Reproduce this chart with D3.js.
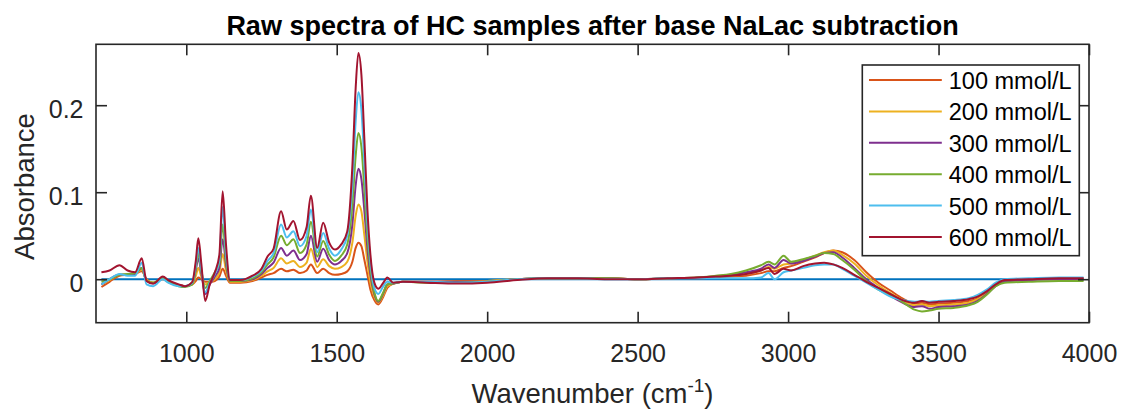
<!DOCTYPE html>
<html>
<head>
<meta charset="utf-8">
<script src="https://cdn.jsdelivr.net/npm/d3@7"></script>
<style>
    body { margin: 0; background: #fff; }
    svg text { font-family: "Liberation Sans", Arial, Helvetica, sans-serif; }
</style>
</head>
<body>
<div id="chart"></div>
<script>
// wavenumber grid (cm-1) shared by all spectra
const wavenumbers = [718, 745, 778, 805, 830, 852, 868, 890, 922, 940, 975, 995, 1020, 1032, 1040, 1050, 1063, 1078, 1095, 1110,
    1121, 1132, 1145, 1180, 1220, 1250, 1270, 1290, 1315, 1334, 1356, 1378, 1400, 1414, 1435, 1455, 1475, 1494, 1515, 1535,
    1552, 1563, 1572, 1582, 1592, 1602, 1612, 1625, 1638, 1655, 1668, 1688, 1720, 1800, 1900, 2000, 2100, 2200, 2300, 2400,
    2500, 2600, 2700, 2760, 2810, 2860, 2910, 2935, 2955, 2985, 3010, 3050, 3090, 3120, 3150, 3180, 3220, 3260, 3300, 3340,
    3380, 3420, 3445, 3470, 3500, 3550, 3600, 3630, 3660, 3690, 3720, 3800, 3900, 3982]

const abs_100 = [-0.009, -0.003, 0.004, 0.005, 0.006, 0.009, 0.000, -0.004, 0.000, -0.003, -0.007, -0.008, -0.006, -0.002, 0.002, 0.000, -0.003, -0.003, -0.002, 0.003,
    0.012, 0.004, -0.004, -0.004, -0.002, 0.002, 0.005, 0.007, 0.012, 0.009, 0.011, 0.007, 0.010, 0.017, 0.007, 0.012, 0.007, 0.005, 0.006, 0.009,
    0.020, 0.036, 0.042, 0.038, 0.022, 0.005, -0.012, -0.024, -0.029, -0.020, -0.010, -0.005, -0.003, -0.003, -0.002, -0.002, 0.000, 0.001, 0.001, 0.001,
    0.000, 0.001, 0.001, 0.002, 0.003, 0.004, 0.007, 0.009, 0.009, 0.013, 0.015, 0.020, 0.025, 0.030, 0.033, 0.031, 0.022, 0.008, -0.004, -0.013,
    -0.022, -0.028, -0.027, -0.029, -0.028, -0.027, -0.025, -0.022, -0.015, -0.007, -0.002, 0.000, 0.001, 0.001]

const abs_200 = [-0.006, -0.001, 0.005, 0.005, 0.006, 0.011, -0.001, -0.004, 0.001, -0.003, -0.007, -0.008, -0.006, 0.004, 0.013, 0.003, -0.006, -0.003, 0.000, 0.008,
    0.029, 0.010, -0.003, -0.003, -0.001, 0.004, 0.009, 0.013, 0.024, 0.018, 0.021, 0.014, 0.019, 0.035, 0.014, 0.023, 0.015, 0.012, 0.014, 0.020,
    0.042, 0.073, 0.086, 0.078, 0.050, 0.020, -0.004, -0.020, -0.027, -0.018, -0.008, -0.005, -0.003, -0.003, -0.003, -0.002, 0.000, 0.001, 0.001, 0.001,
    0.000, 0.001, 0.002, 0.003, 0.004, 0.006, 0.010, 0.014, 0.012, 0.017, 0.018, 0.022, 0.027, 0.031, 0.033, 0.028, 0.018, 0.004, -0.007, -0.016,
    -0.024, -0.030, -0.029, -0.031, -0.030, -0.029, -0.027, -0.023, -0.016, -0.007, -0.002, 0.000, 0.000, 0.000]

const abs_300 = [-0.006, 0.000, 0.005, 0.005, 0.006, 0.013, -0.002, -0.005, 0.001, -0.003, -0.007, -0.008, -0.005, 0.011, 0.024, 0.007, -0.017, -0.006, 0.003, 0.013,
    0.046, 0.017, -0.002, -0.002, 0.000, 0.006, 0.013, 0.019, 0.036, 0.027, 0.033, 0.022, 0.029, 0.050, 0.020, 0.035, 0.022, 0.017, 0.021, 0.030,
    0.063, 0.108, 0.127, 0.115, 0.078, 0.035, 0.005, -0.017, -0.026, -0.016, -0.006, -0.005, -0.003, -0.003, -0.003, -0.003, 0.000, 0.001, 0.001, 0.001,
    0.000, 0.001, 0.002, 0.003, 0.005, 0.008, 0.012, 0.017, 0.013, 0.022, 0.018, 0.021, 0.026, 0.030, 0.031, 0.025, 0.013, 0.000, -0.010, -0.019,
    -0.027, -0.032, -0.031, -0.034, -0.032, -0.031, -0.029, -0.025, -0.017, -0.008, -0.003, -0.001, 0.000, 0.000]

const abs_400 = [-0.003, 0.000, 0.005, 0.006, 0.007, 0.013, -0.002, -0.004, 0.001, -0.003, -0.008, -0.009, -0.006, 0.014, 0.030, 0.010, -0.010, -0.002, 0.008, 0.018,
    0.063, 0.022, -0.002, -0.002, 0.001, 0.008, 0.017, 0.025, 0.050, 0.039, 0.046, 0.030, 0.040, 0.066, 0.026, 0.044, 0.028, 0.021, 0.027, 0.040,
    0.085, 0.142, 0.168, 0.152, 0.102, 0.048, 0.012, -0.015, -0.025, -0.015, -0.006, -0.005, -0.003, -0.004, -0.004, -0.003, 0.000, 0.001, 0.001, 0.001,
    0.000, 0.001, 0.002, 0.004, 0.006, 0.010, 0.016, 0.020, 0.017, 0.027, 0.020, 0.023, 0.027, 0.030, 0.029, 0.022, 0.011, -0.002, -0.012, -0.018,
    -0.026, -0.035, -0.037, -0.036, -0.034, -0.033, -0.030, -0.026, -0.018, -0.008, -0.004, -0.003, -0.002, -0.002]

const abs_500 = [-0.006, 0.000, 0.006, 0.004, 0.004, 0.019, -0.006, -0.008, 0.000, -0.004, -0.008, -0.008, -0.004, 0.017, 0.036, 0.012, -0.015, -0.004, 0.006, 0.022,
    0.083, 0.030, -0.001, -0.001, 0.003, 0.010, 0.021, 0.030, 0.063, 0.048, 0.055, 0.038, 0.050, 0.080, 0.031, 0.053, 0.035, 0.027, 0.034, 0.050,
    0.108, 0.182, 0.215, 0.195, 0.132, 0.064, 0.020, -0.010, -0.017, -0.008, -0.003, -0.004, -0.003, -0.003, -0.004, -0.003, 0.000, 0.001, 0.001, 0.000,
    0.000, 0.001, 0.001, 0.001, 0.001, 0.001, 0.002, 0.007, 0.000, 0.008, 0.010, 0.013, 0.016, 0.017, 0.017, 0.012, 0.004, -0.004, -0.012, -0.020,
    -0.024, -0.026, -0.025, -0.026, -0.025, -0.024, -0.022, -0.018, -0.012, -0.004, 0.000, 0.001, 0.002, 0.002]

const abs_600 = [0.008, 0.010, 0.016, 0.010, 0.008, 0.024, -0.002, -0.005, 0.003, -0.001, -0.006, -0.008, -0.003, 0.022, 0.047, 0.018, -0.025, -0.006, 0.008, 0.028,
    0.101, 0.040, -0.001, -0.001, 0.004, 0.012, 0.026, 0.035, 0.078, 0.057, 0.067, 0.045, 0.060, 0.096, 0.036, 0.065, 0.042, 0.034, 0.040, 0.055,
    0.130, 0.220, 0.260, 0.235, 0.160, 0.080, 0.028, -0.004, -0.011, -0.004, 0.002, -0.004, -0.003, -0.004, -0.005, -0.004, -0.001, 0.001, 0.001, 0.000,
    0.000, 0.001, 0.002, 0.003, 0.004, 0.006, 0.010, 0.013, 0.006, 0.012, 0.010, 0.015, 0.018, 0.019, 0.017, 0.013, 0.005, -0.003, -0.010, -0.017,
    -0.024, -0.027, -0.025, -0.027, -0.026, -0.025, -0.023, -0.020, -0.014, -0.006, -0.001, 0.000, 0.001, 0.001]

const series_names = ["100 mmol/L", "200 mmol/L", "300 mmol/L", "400 mmol/L", "500 mmol/L", "600 mmol/L"]
const series_values = [abs_100, abs_200, abs_300, abs_400, abs_500, abs_600]
const series_colors = ["#D95319", "#EDB120", "#7E2F8E", "#77AC30", "#4DBEEE", "#A2142F"]

const x_ticks = [1000, 1500, 2000, 2500, 3000, 3500, 4000]
const y_ticks = [0, 0.1, 0.2]

const width = 1123, height = 410
const margin = {top: 44.3, right: 34, bottom: 87.3, left: 96}
const plot_w = width - margin.left - margin.right
const plot_h = height - margin.top - margin.bottom
const axis_color = "#262626"

const svg = d3.select("#chart")
    .append("svg")
    .attr("width", width)
    .attr("height", height)

const g = svg.append("g")
    .attr("transform", "translate(" + margin.left + "," + margin.top + ")")

let x = d3.scaleLinear().domain([700, 4000]).range([0, plot_w])
let y = d3.scaleLinear().domain([-0.05, 0.27]).range([plot_h, 0])

g.append("clipPath").attr("id", "plot_clip")
    .append("rect").attr("width", plot_w).attr("height", plot_h)

let line = d3.line()
    .x(d => x(d[0]))
    .y(d => y(d[1]))
    .curve(d3.curveMonotoneX)

const lines_g = g.append("g").attr("clip-path", "url(#plot_clip)")

// zero reference line drawn first
lines_g.append("path")
    .datum([[wavenumbers[0], 0], [wavenumbers[wavenumbers.length - 1], 0]])
    .attr("d", line)
    .attr("fill", "none")
    .attr("stroke", "#0072BD")
    .attr("stroke-width", 2)

series_values.forEach((vals, i) => {
    lines_g.append("path")
        .datum(wavenumbers.map((w, k) => [w, vals[k]]))
        .attr("d", line)
        .attr("fill", "none")
        .attr("stroke", series_colors[i])
        .attr("stroke-width", 2)
        .attr("stroke-linejoin", "round")
})

// axes box with inward ticks on all four sides
const tick_len = 11
let style_axis = sel => {
    sel.select(".domain").remove()
    sel.selectAll(".tick line").attr("stroke", axis_color).attr("stroke-width", 1.6)
    sel.selectAll(".tick text")
        .attr("fill", axis_color)
        .style("font-size", "25px")
}

g.append("g")
    .attr("transform", "translate(0," + plot_h + ")")
    .call(d3.axisBottom(x).tickValues(x_ticks).tickSize(-tick_len).tickPadding(0).tickFormat(d3.format("d")))
    .call(style_axis)
    .call(s => s.selectAll(".tick text").attr("y", 39).attr("dy", null))

g.append("g")
    .call(d3.axisTop(x).tickValues(x_ticks).tickSize(-tick_len).tickFormat(""))
    .call(style_axis)

g.append("g")
    .call(d3.axisLeft(y).tickValues(y_ticks).tickSize(-tick_len).tickPadding(12.5).tickFormat(d => d === 0 ? "0" : d3.format(".1f")(d)))
    .call(style_axis)
    .call(s => s.selectAll(".tick text").attr("dy", null).attr("y", 12))

g.append("g")
    .attr("transform", "translate(" + plot_w + ",0)")
    .call(d3.axisRight(y).tickValues(y_ticks).tickSize(-tick_len).tickFormat(""))
    .call(style_axis)

g.append("rect")
    .attr("width", plot_w)
    .attr("height", plot_h)
    .attr("fill", "none")
    .attr("stroke", axis_color)
    .attr("stroke-width", 1.6)

// title
svg.append("text")
    .attr("x", margin.left + plot_w / 2)
    .attr("y", 35)
    .attr("text-anchor", "middle")
    .style("font-size", "27px")
    .style("font-weight", "bold")
    .attr("fill", "#000")
    .text("Raw spectra of HC samples after base NaLac subtraction")

// x axis label with superscript
const x_label = svg.append("text")
    .attr("x", margin.left + plot_w / 2)
    .attr("y", 403)
    .attr("text-anchor", "middle")
    .attr("fill", axis_color)
    .style("font-size", "27.5px")
x_label.append("tspan").text("Wavenumber (cm")
x_label.append("tspan").attr("dy", -11).style("font-size", "19px").text("-1")
x_label.append("tspan").attr("dy", 11).text(")")

// y axis label
svg.append("text")
    .attr("transform", "translate(34.3," + (margin.top + plot_h / 2 + 3) + ") rotate(-90)")
    .attr("text-anchor", "middle")
    .attr("fill", axis_color)
    .style("font-size", "27.5px")
    .text("Absorbance")

// legend
const legend = svg.append("g").attr("transform", "translate(862.3,65)")
legend.append("rect")
    .attr("width", 217)
    .attr("height", 190.7)
    .attr("fill", "#fff")
    .attr("stroke", axis_color)
    .attr("stroke-width", 1.6)

series_names.forEach((name, i) => {
    const row_y = 15 + i * 31.4
    legend.append("line")
        .attr("x1", 6.7).attr("x2", 79.5)
        .attr("y1", row_y).attr("y2", row_y)
        .attr("stroke", series_colors[i])
        .attr("stroke-width", 2)
    legend.append("text")
        .attr("x", 86.5)
        .attr("y", row_y + 9)
        .attr("fill", "#000")
        .style("font-size", "23.5px")
        .text(name)
})
</script>
</body>
</html>
